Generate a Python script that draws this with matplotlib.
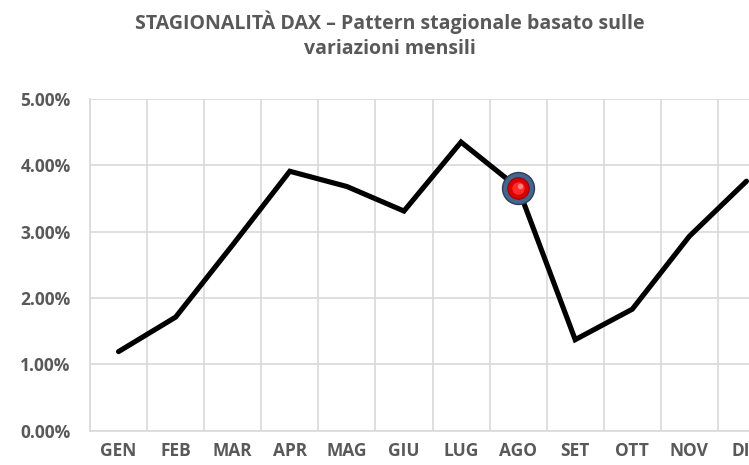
import matplotlib
matplotlib.use("Agg")
import matplotlib.pyplot as plt
from matplotlib.ticker import FuncFormatter, MultipleLocator
import numpy as np

months = ["GEN", "FEB", "MAR", "APR", "MAG", "GIU", "LUG", "AGO", "SET", "OTT", "NOV", "DIC"]
values = [1.19, 1.71, 2.80, 3.91, 3.68, 3.31, 4.35, 3.66, 1.37, 1.83, 2.93, 3.76]
highlight_month = "AGO"
title_text = "STAGIONALITÀ DAX – Pattern stagionale basato sulle\nvariazioni mensili"

plt.rcParams['font.family'] = ['Open Sans', 'DejaVu Sans']

fig = plt.figure(figsize=(7.49, 4.65), dpi=100)
ax = fig.add_axes([90/749, 34.5/465, 685/749, 331.5/465])

x = np.arange(len(months))
ax.plot(x, values, color="black", lw=3.7, solid_capstyle="round",
        solid_joinstyle="miter", zorder=3)

hi = months.index(highlight_month)
ax.plot(x[hi], values[hi], "o", ms=23, mfc="#46648c", mec="#2a3f5c", mew=1.0, zorder=4)
ax.plot(x[hi], values[hi], "o", ms=15.5, mfc="#d80000", mec="#8a0000", mew=0.6, zorder=5)
ax.plot(x[hi], values[hi], "o", ms=9, mfc="#ff2a2a", mec="none", zorder=6)
ax.plot(x[hi] + 0.03, values[hi] + 0.03, "o", ms=4, mfc="#ff8080", mec="none", zorder=7)

ax.set_xlim(-0.5, len(months) - 0.5)
ax.set_ylim(0, 5)
ax.yaxis.set_major_locator(MultipleLocator(1))
ax.yaxis.set_major_formatter(FuncFormatter(lambda v, p: f"{v:.2f}%"))
ax.set_xticks(x)
ax.set_xticklabels(months)
ax.set_xticks(np.arange(-0.5, len(months), 1), minor=True)

grid_c = "#d9d9d9"
ax.grid(True, which="major", axis="y", color=grid_c, lw=1.2)
ax.grid(True, which="minor", axis="x", color=grid_c, lw=1.2)
ax.set_axisbelow(True)
for s in ["top", "right"]:
    ax.spines[s].set_visible(False)
for s in ["left", "bottom"]:
    ax.spines[s].set_color(grid_c)
    ax.spines[s].set_linewidth(1.2)

ax.tick_params(axis="both", which="both", length=0)
ax.tick_params(axis="y", pad=14, labelsize=12.5, labelcolor="#595959")
ax.tick_params(axis="x", pad=8, labelsize=12.5, labelcolor="#595959")
for lab in ax.get_xticklabels() + ax.get_yticklabels():
    lab.set_fontweight("bold")

fig.text(390/749, 1 - 34.5/465, title_text, ha="center", va="center",
         fontsize=14, fontweight="bold", color="#595959", linespacing=1.3)

fig.savefig("out.png", dpi=100)
